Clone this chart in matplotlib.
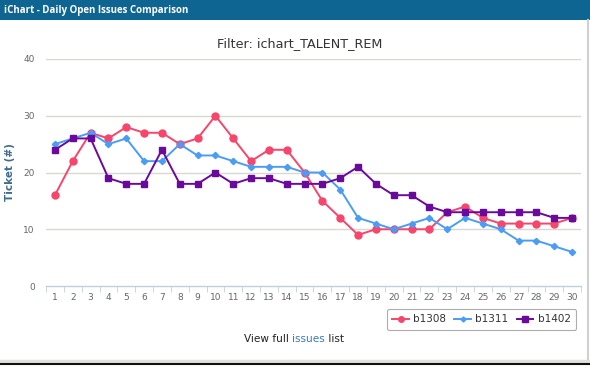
import matplotlib
matplotlib.use("Agg")
import matplotlib.pyplot as plt
from matplotlib.lines import Line2D
from matplotlib.patches import Rectangle

days = list(range(1, 31))
b1308 = [16, 22, 27, 26, 28, 27, 27, 25, 26, 30, 26, 22, 24, 24, 20, 15, 12, 9, 10, 10,
         10, 10, 13, 14, 12, 11, 11, 11, 11, 12]
b1311 = [25, 26, 27, 25, 26, 22, 22, 25, 23, 23, 22, 21, 21, 21, 20, 20, 17, 12, 11, 10,
         11, 12, 10, 12, 11, 10, 8, 8, 7, 6]
b1402 = [24, 26, 26, 19, 18, 18, 24, 18, 18, 20, 18, 19, 19, 18, 18, 18, 19, 21, 18, 16,
         16, 14, 13, 13, 13, 13, 13, 13, 12, 12]
series_names = ["b1308", "b1311", "b1402"]
yticks = [0, 10, 20, 30, 40]

W, H = 590, 366
fig = plt.figure(figsize=(W / 100, H / 100), dpi=100)
fig.patch.set_facecolor("white")

# header bar
fig.patches.append(Rectangle((0, 1 - 20 / H), 1, 20 / H, transform=fig.transFigure,
                             facecolor="#0e6592", edgecolor="none", zorder=0))
fig.text(4 / W, 1 - 10.5 / H, "iChart - Daily Open Issues Comparison", color="white",
         fontsize=7.0, fontweight="bold", va="center", ha="left", family="Open Sans")
# frame lines
fig.add_artist(Line2D([587.5 / W, 587.5 / W], [1 - 20 / H, 1 - 360 / H], color="#d0d0d0",
                      lw=1.5, transform=fig.transFigure))
fig.add_artist(Line2D([0, 1], [1 - 360.5 / H, 1 - 360.5 / H], color="#e0e0dc", lw=2.5,
                      transform=fig.transFigure))
fig.add_artist(Line2D([0, 1], [1 - 364 / H, 1 - 364 / H], color="#111111", lw=1.5,
                      transform=fig.transFigure))

ax = fig.add_axes([46 / W, 1 - 286 / H, (581 - 46) / W, (286 - 59) / H])
ax.set_xlim(0.5, 30.5)
ax.set_ylim(0, 40)

styles = [
    dict(color="#f7456b", marker="o", ms=5.0),
    dict(color="#4a9cf5", marker="D", ms=3.2),
    dict(color="#6a0a9c", marker="s", ms=5.0),
]
for name, vals, st in zip(series_names, [b1308, b1311, b1402], styles):
    ax.plot(days, vals, color=st["color"], lw=1.4, marker=st["marker"], ms=st["ms"],
            mec=st["color"], mfc=st["color"], label=name, zorder=3)

for s in ax.spines.values():
    s.set_visible(False)
ax.spines["bottom"].set_visible(True)
ax.spines["bottom"].set_color("#c0d0e0")
ax.spines["bottom"].set_linewidth(1)

ax.set_yticks(yticks)
for y in yticks[1:]:
    ax.axhline(y, color="#d8d8d0", lw=1, zorder=1)
ax.set_xticks(days)
ax.set_xticks([d + 0.5 for d in range(0, 31)], minor=True)
ax.tick_params(axis="x", which="major", length=0, labelsize=6.5, labelcolor="#666666", pad=5)
ax.tick_params(axis="x", which="minor", length=4, color="#c0d0e0", direction="out")
ax.tick_params(axis="y", length=0, labelsize=6.5, labelcolor="#666666", pad=8)

ax.set_ylabel("Ticket (#)", fontsize=7.5, fontweight="bold", color="#3f6b8e", labelpad=6)

fig.text(300 / W, 1 - 44 / H, "Filter: ichart_TALENT_REM", fontsize=9.2, color="#333333",
         ha="center", va="center")

leg = ax.legend(loc="upper right", bbox_to_anchor=(581 / W, 1 - 304 / H),
                bbox_transform=fig.transFigure, ncol=3, frameon=True, fontsize=7.5,
                handlelength=1.6, columnspacing=0.8, handletextpad=0.4, borderpad=0.5,
                fancybox=True, edgecolor="#999999", labelcolor="#333333", markerscale=0.8)
leg.get_frame().set_linewidth(0.8)

# bottom link text
renderer = fig.canvas.get_renderer()
parts = [("View full ", "#222222"), ("issues", "#3d7ab8"), (" list", "#222222")]
fs = 7.6
widths = []
for txt, col in parts:
    t = fig.text(0, 0, txt, fontsize=fs)
    widths.append(t.get_window_extent(renderer).width)
    t.remove()
total = sum(widths)
x0 = 294 - total / 2
ypix = 339
for (txt, col), w in zip(parts, widths):
    fig.text(x0 / W, 1 - ypix / H, txt, fontsize=fs, color=col, ha="left", va="center")
    x0 += w

fig.savefig("out.png", dpi=100)
